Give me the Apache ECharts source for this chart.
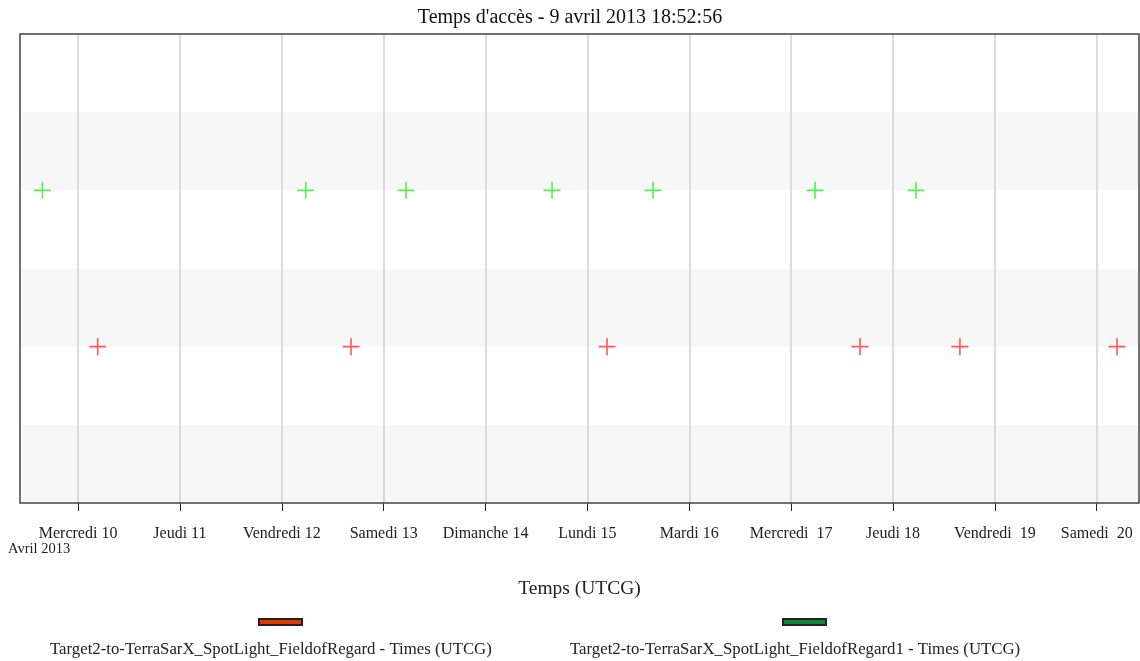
<!DOCTYPE html>
<html><head><meta charset="utf-8">
<script src="https://cdn.jsdelivr.net/npm/echarts@6/dist/echarts.min.js"></script>
<style>html,body{margin:0;padding:0;background:#fff}#c{width:1140px;height:661px}</style>
</head><body><div id="c"></div>
<script>
// Day-of-April values (fractional days)
const tickDays = [10, 11, 12, 13, 14, 15, 16, 17, 18, 19, 20];
const tickLabels = ["Mercredi 10", "Jeudi 11", "Vendredi 12", "Samedi 13", "Dimanche 14", "Lundi 15", "Mardi 16", "Mercredi  17", "Jeudi 18", "Vendredi  19", "Samedi  20"];
const seriesNames = ["Target2-to-TerraSarX_SpotLight_FieldofRegard - Times (UTCG)", "Target2-to-TerraSarX_SpotLight_FieldofRegard1 - Times (UTCG)"];
const redDays = [10.193, 12.680, 15.193, 17.677, 18.657, 20.199];
const greenDays = [9.650, 12.235, 13.220, 14.653, 15.645, 17.235, 18.226];
const redLevel = 2;
const greenLevel = 4;

const FONT = '"Liberation Serif", "Times New Roman", serif';
const chart = echarts.init(document.getElementById('c'), null, {renderer: 'canvas'});
const cross = 'path://M0,8 L16,8 M8,0 L8,16';

const legendIcon = (name, color, left) => ({
  left: left, top: 613, icon: 'rect', itemWidth: 43, itemHeight: 6, itemGap: 0,
  formatter: () => '', textStyle: {fontSize: 1},
  data: [{name: name, itemStyle: {color: color, borderColor: '#222', borderWidth: 2, opacity: 1}}]
});
const legendText = (name, left) => ({
  left: left, top: 636, icon: 'none', itemWidth: 0, itemGap: 0,
  textStyle: {fontFamily: FONT, fontSize: 16.8, color: '#222'},
  data: [{name: name}]
});

chart.setOption({
  animation: false,
  backgroundColor: '#fff',
  title: {text: "Temps d'accès - 9 avril 2013 18:52:56", left: 'center', top: 3,
    textStyle: {fontFamily: FONT, fontSize: 20, fontWeight: 'normal', color: '#111'}},
  grid: {left: 20, right: 1, top: 34, bottom: 158, show: true, borderColor: '#444', borderWidth: 1.5, backgroundColor: 'transparent', z: 10},
  legend: [
    legendIcon(seriesNames[0], '#dd3a00', 253),
    legendIcon(seriesNames[1], '#0e8638', 777),
    legendText(seriesNames[0], 40),
    legendText(seriesNames[1], 560)
  ],
  xAxis: {
    type: 'value', min: 9.43, max: 20.415,
    name: 'Temps (UTCG)', nameLocation: 'middle', nameGap: 76,
    nameTextStyle: {fontFamily: FONT, fontSize: 19.5, color: '#222'},
    axisLine: {show: false},
    axisTick: {show: true, customValues: tickDays, length: 8, lineStyle: {color: '#222', width: 1}},
    axisLabel: {customValues: tickDays, margin: 23, fontFamily: FONT, fontSize: 16, color: '#222',
      formatter: v => tickLabels[tickDays.indexOf(Math.round(v))] || ''},
    splitLine: {show: false}
  },
  yAxis: {
    type: 'value', min: 0, max: 6, interval: 1,
    axisLine: {show: false}, axisTick: {show: false}, axisLabel: {show: false},
    splitLine: {show: false},
    splitArea: {show: true, areaStyle: {color: ['#f7f7f7', '#ffffff']}}
  },
  graphic: [{type: 'text', left: 8, top: 542, style: {text: 'Avril 2013', font: '14.5px ' + FONT, fill: '#222'}}],
  series: [
    {
      name: seriesNames[0], type: 'scatter', symbol: cross, symbolSize: 17,
      itemStyle: {color: 'rgba(0,0,0,0)', borderColor: '#ff3030', borderWidth: 1.6},
      data: redDays.map(d => [d, redLevel]),
      markLine: {silent: true, symbol: 'none', label: {show: false},
        lineStyle: {color: '#d2d2d2', width: 1.5, type: 'solid'},
        data: tickDays.map(d => ({xAxis: d}))}
    },
    {
      name: seriesNames[1], type: 'scatter', symbol: cross, symbolSize: 17,
      itemStyle: {color: 'rgba(0,0,0,0)', borderColor: '#2aee2a', borderWidth: 1.6},
      data: greenDays.map(d => [d, greenLevel])
    }
  ]
});
</script></body></html>
